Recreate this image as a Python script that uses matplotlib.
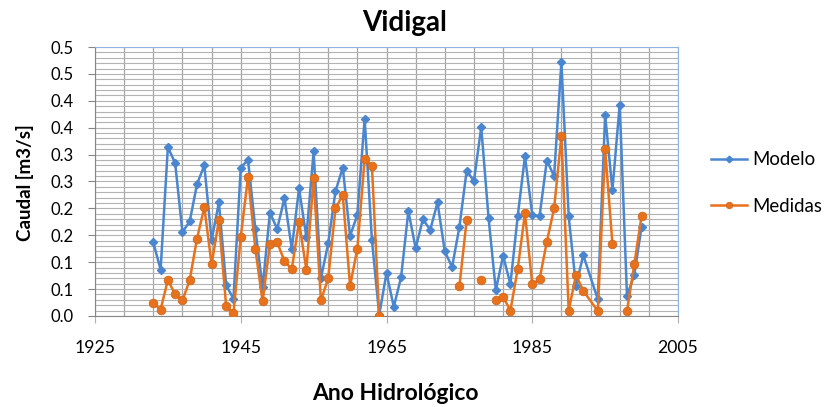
import matplotlib.pyplot as plt
from matplotlib.ticker import MultipleLocator, FixedLocator, FormatStrFormatter
import numpy as np

plt.rcParams['font.family'] = ['Lato', 'DejaVu Sans']

# hydrological years (1993 is not in the table)
years = [1933, 1934, 1935, 1936, 1937, 1938, 1939, 1940, 1941, 1942,
         1943, 1944, 1945, 1946, 1947, 1948, 1949, 1950, 1951, 1952,
         1953, 1954, 1955, 1956, 1957, 1958, 1959, 1960, 1961, 1962,
         1963, 1964, 1965, 1966, 1967, 1968, 1969, 1970, 1971, 1972,
         1973, 1974, 1975, 1976, 1977, 1978, 1979, 1980, 1981, 1982,
         1983, 1984, 1985, 1986, 1987, 1988, 1989, 1990, 1991, 1992,
         1994, 1995, 1996, 1997, 1998, 1999, 2000]

modelo = [0.137, 0.086, 0.314, 0.284, 0.156, 0.176, 0.245, 0.280, 0.141, 0.211,
          0.057, 0.032, 0.276, 0.290, 0.162, 0.053, 0.192, 0.162, 0.219, 0.125,
          0.237, 0.147, 0.306, 0.070, 0.135, 0.232, 0.276, 0.149, 0.188, 0.367,
          0.141, 0.002, 0.080, 0.017, 0.072, 0.195, 0.126, 0.180, 0.160, 0.211,
          0.120, 0.091, 0.165, 0.270, 0.251, 0.351, 0.183, 0.048, 0.112, 0.059,
          0.185, 0.297, 0.188, 0.185, 0.289, 0.260, 0.472, 0.185, 0.056, 0.113,
          0.031, 0.374, 0.234, 0.393, 0.038, 0.076, 0.166]

# None = no measurement that year
medidas = [0.024, 0.012, 0.067, 0.040, 0.029, 0.067, 0.144, 0.202, 0.096, 0.178,
           0.018, 0.005, 0.147, 0.259, 0.125, 0.027, 0.133, 0.137, 0.102, 0.087,
           0.175, 0.086, 0.256, 0.029, 0.070, 0.200, 0.225, 0.056, 0.125, 0.292,
           0.279, 0.000, None, None, None, None, None, None, None, None,
           None, None, 0.055, 0.178, None, 0.067, None, 0.030, 0.036, 0.010,
           0.087, 0.191, 0.059, 0.068, 0.138, 0.200, 0.335, 0.010, 0.076, 0.047,
           0.009, 0.310, 0.134, None, 0.009, 0.096, 0.186]

x_ticks = [1925, 1945, 1965, 1985, 2005]

medidas_arr = np.array([np.nan if v is None else v for v in medidas])

fig = plt.figure(figsize=(8.27, 4.07), dpi=100)
ax = fig.add_axes([95/827, 1-316/407, (678-95)/827, (316-47)/407])

ax.plot(years, modelo, color='#4a86cf', lw=1.8, marker='D', ms=4.5,
        label='Modelo', zorder=3)
ax.plot(years, medidas_arr, color='#e8711c', lw=1.8, marker='o', ms=6.2,
        markeredgecolor='#d2691e', markeredgewidth=0.6, label='Medidas', zorder=4)

ax.set_xlim(1925, 2005)
ax.set_ylim(0, 0.5)
ax.xaxis.set_major_locator(FixedLocator(x_ticks))
ax.xaxis.set_minor_locator(FixedLocator(range(1925, 2006, 4)))
ax.yaxis.set_major_locator(MultipleLocator(0.05))
ax.yaxis.set_minor_locator(MultipleLocator(0.01))
ax.yaxis.set_major_formatter(FormatStrFormatter('%.1f'))

ax.grid(which='both', axis='y', color='#b3b3b3', lw=0.8)
ax.grid(which='both', axis='x', color='#a6a6a6', lw=0.9)
ax.set_axisbelow(True)

ax.tick_params(axis='y', which='major', length=5, width=0.8, color='#868686',
               labelsize=12, pad=10.5)
ax.tick_params(axis='x', which='major', length=5, width=0.8, color='#b0b0b0',
               labelsize=12.7, pad=12)
ax.tick_params(which='minor', length=0)

for s in ['left', 'bottom']:
    ax.spines[s].set_color('#868686')
for s in ['top', 'right']:
    ax.spines[s].set_color('#8eb4e3')

fig.text(405/827, 1-23/407, 'Vidigal', ha='center', va='center',
         fontsize=20, fontweight='bold')
fig.text(25/827, 1-183/407, 'Caudal [m3/s]', ha='center', va='center',
         rotation=90, fontsize=13.5, fontweight='bold')
fig.text(395/827, 1-393/407, 'Ano Hidrológico', ha='center', va='center',
         fontsize=16.5, fontweight='bold')

fig.legend(loc='center left', bbox_to_anchor=(711/827, 1-183/407),
           frameon=False, fontsize=13.4, labelspacing=1.6,
           borderaxespad=0, borderpad=0,
           handlelength=1.95, handletextpad=0.27, markerscale=0.75)

fig.savefig('out.png', dpi=100)
